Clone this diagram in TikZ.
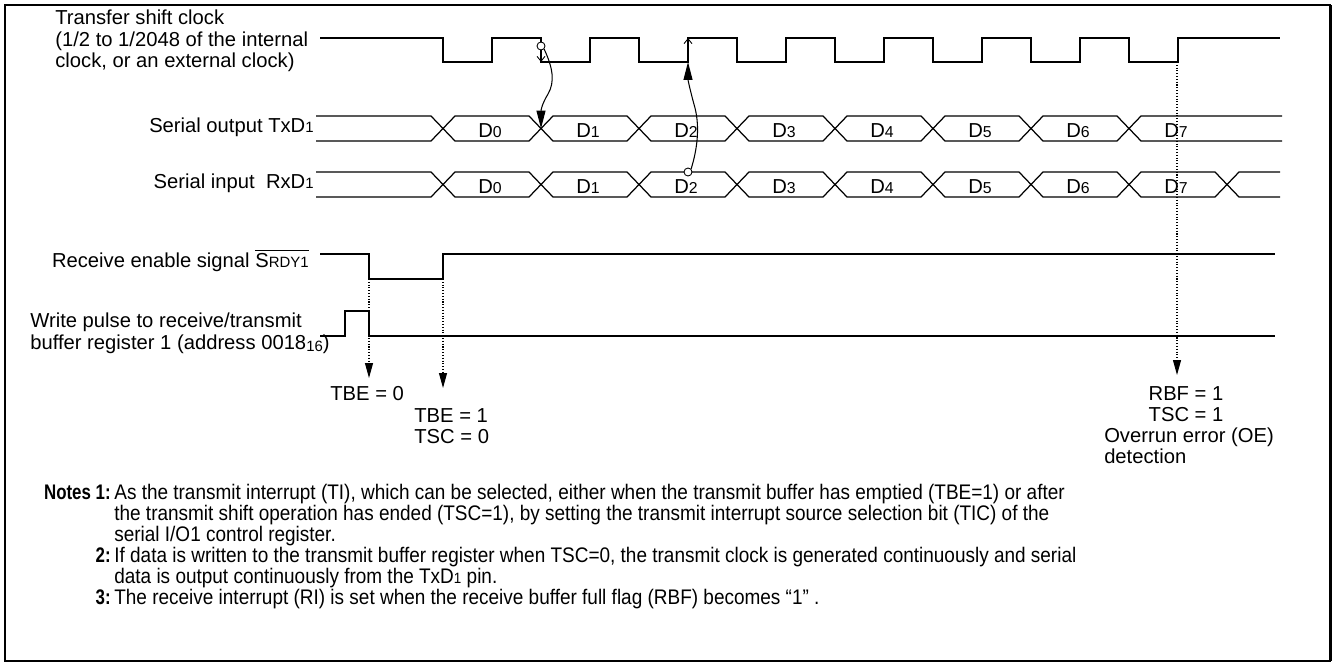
\documentclass[tikz,border=0pt]{standalone}
\usepackage{fontspec}
\setmainfont{Liberation Sans}
\newfontfamily\notesfont[FakeStretch=0.9]{Liberation Sans}
\newfontfamily\notesheadfont[FakeStretch=0.8]{Liberation Sans}
\usetikzlibrary{arrows.meta}

\newcommand\lbl{\fontsize{11.5}{14}\selectfont}
\newcommand\nts{\notesfont\fontsize{12}{14}\selectfont}
\newcommand\ntshead{\notesheadfont\bfseries\fontsize{12}{14}\selectfont}
\newcommand\sm[1]{{\fontsize{8.5}{9}\selectfont #1}}
\newcommand\dsub[1]{\raisebox{-0.5pt}{\fontsize{9}{9}\selectfont #1}}

\tikzset{
    every node/.style={inner sep=0pt},
    frame/.style={line width=1.1pt},
    wave/.style={line width=0.7pt},
    flag/.style={densely dotted, line width=0.6pt,
        -{Triangle[length=3mm, width=1.6mm]}},
    cause/.style={line width=0.6pt,
        -{Triangle[length=3.6mm, width=1.8mm]}},
    edgetip/.style={line width=0.5pt,
        -{Straight Barb[length=1mm, width=1.6mm]}},
    ring/.style={circle, draw, fill=white, line width=0.5pt, minimum size=0.16cm}
}

\begin{document}
\begin{tikzpicture}[x=0.02cm, y=-0.02cm, font=\lbl]

        \useasboundingbox (0,0) rectangle (1337,666);

        \draw[frame]
            (5,5) rectangle (1330,661);
        \draw[line width=1.7pt]
            (5,5) -- (5,661)
            (1330,5) -- (1330,661);

        % signal names
        \node[anchor=base west] (clkname1) at (55,24) {Transfer shift clock};
        \node[anchor=base west] (clkname2) at (55,46) {(1/2 to 1/2048 of the internal};
        \node[anchor=base west] (clkname3) at (55,67) {clock, or an external clock)};
        \node[anchor=base east] (txdname) at (314,132) {Serial output TxD\sm{1}};
        \node[anchor=base east] (rxdname) at (314,188) {Serial input\ \ RxD\sm{1}};
        \node[anchor=base east] (srdyname) at (309,267)
            {Receive enable signal $\overline{\hbox{S\sm{RDY1}}}$};
        \node[anchor=base west] (wrname1) at (30,327) {Write pulse to receive/transmit};
        \node[anchor=base west] (wrname2) at (30,349)
            {buffer register 1 (address 0018\raisebox{-1.5pt}{\sm{16}})};

        % transfer shift clock
        \draw[wave]
            (320,38) foreach \k in {0,...,7} {
                -- ({443+98*\k},38) -- ({443+98*\k},62)
                -- ({492+98*\k},62) -- ({492+98*\k},38)
            } -- (1280,38);

        % serial output
        \draw[wave]
            (316,116) -- (431,116) -- (443,128.5) -- (431,141) -- (316,141)
            (1282,116) -- (1141,116) -- (1129,128.5) -- (1141,141) -- (1282,141);
        \foreach \k in {0,...,6}
            \draw[wave] ({443+98*\k},128.5) -- ++(12,-12.5) -- ++(74,0)
                -- ++(12,12.5) -- ++(-12,12.5) -- ++(-74,0) -- cycle;
        \foreach \k in {0,...,7}
            \node[anchor=base] (txbit\k) at ({490+98*\k},137) {D\dsub{\k}};

        % serial input
        \draw[wave]
            (316,172) -- (431,172) -- (443,184.5) -- (431,197) -- (316,197)
            (1280,172) -- (1239,172) -- (1227,184.5) -- (1239,197) -- (1280,197);
        \foreach \k in {0,...,7}
            \draw[wave] ({443+98*\k},184.5) -- ++(12,-12.5) -- ++(74,0)
                -- ++(12,12.5) -- ++(-12,12.5) -- ++(-74,0) -- cycle;
        \foreach \k in {0,...,7}
            \node[anchor=base] (rxbit\k) at ({490+98*\k},193) {D\dsub{\k}};

        % receive enable and write pulse
        \draw[wave]
            (320,254) -- (369,254) -- (369,279) -- (443,279) -- (443,254) -- (1275,254);
        \draw[wave]
            (320,336) -- (345,336) -- (345,311) -- (369,311) -- (369,336) -- (1275,336);

        % flag changes
        \coordinate (srdyfall) at (369,279);
        \coordinate (srdyrise) at (443,279);
        \coordinate (lastrise) at (1177,62);
        \coordinate (tbezero) at (369,378);
        \coordinate (tbeone) at (443,388);
        \coordinate (rbfone) at (1177,375);

        \draw[flag] (srdyfall) -- (tbezero);
        \draw[flag] (srdyrise) -- (tbeone);
        \draw[flag] (lastrise) -- (rbfone);

        \node[anchor=base west] (tbe0) at (330,400) {TBE = 0};
        \node[anchor=base west] (tbe1) at (414,422) {TBE = 1};
        \node[anchor=base west] (tsc0) at (414,443) {TSC = 0};
        \node[anchor=base] (rbf1) at (1186,400) {RBF = 1};
        \node[anchor=base] (tsc1) at (1186,421) {TSC = 1};
        \node[anchor=base] (oerr) at (1189,442) {Overrun error (OE)};
        \path (oerr.base west) ++(0,21) node[anchor=base west] (detect) {detection};

        % clock edge to data
        \node[ring] (outring) at (541,46) {};
        \node[ring] (inring) at (688,172) {};
        \coordinate (outcross) at (541,128.5);
        \coordinate (inrise) at (688,62);
        \coordinate (inhigh) at (688,38);
        \coordinate (outlow) at (541,62);

        \draw[edgetip] (outring.south) -- (outlow);
        \draw[cause]
            (outring.south east) .. controls (553,68) and (555,82) .. (548,94)
            .. controls (542,104) and (541,110) .. (outcross);
        \draw[cause]
            (inring.north east) .. controls (697,150) and (700,128) .. (695,108)
            .. controls (690,90) and (688,80) .. (inrise);
        \draw[edgetip] (inrise) -- (inhigh);

        % notes
        \node[anchor=base east, font=\ntshead] (note1) at (111,499) {Notes 1:};
        \node[anchor=base west, font=\nts] (note1a) at (114,499)
            {As the transmit interrupt (TI), which can be selected, either when the transmit buffer has emptied (TBE=1) or after};
        \node[anchor=base west, font=\nts] (note1b) at (114,520)
            {the transmit shift operation has ended (TSC=1), by setting the transmit interrupt source selection bit (TIC) of the};
        \node[anchor=base west, font=\nts] (note1c) at (114,541)
            {serial I/O1 control register.};
        \node[anchor=base east, font=\ntshead] (note2) at (111,562) {2:};
        \node[anchor=base west, font=\nts] (note2a) at (114,562)
            {If data is written to the transmit buffer register when TSC=0, the transmit clock is generated continuously and serial};
        \node[anchor=base west, font=\nts] (note2b) at (114,583)
            {data is output continuously from the TxD\sm{1} pin.};
        \node[anchor=base east, font=\ntshead] (note3) at (111,604) {3:};
        \node[anchor=base west, font=\nts] (note3a) at (114,604)
            {The receive interrupt (RI) is set when the receive buffer full flag (RBF) becomes “1” .};

\end{tikzpicture}
\end{document}
